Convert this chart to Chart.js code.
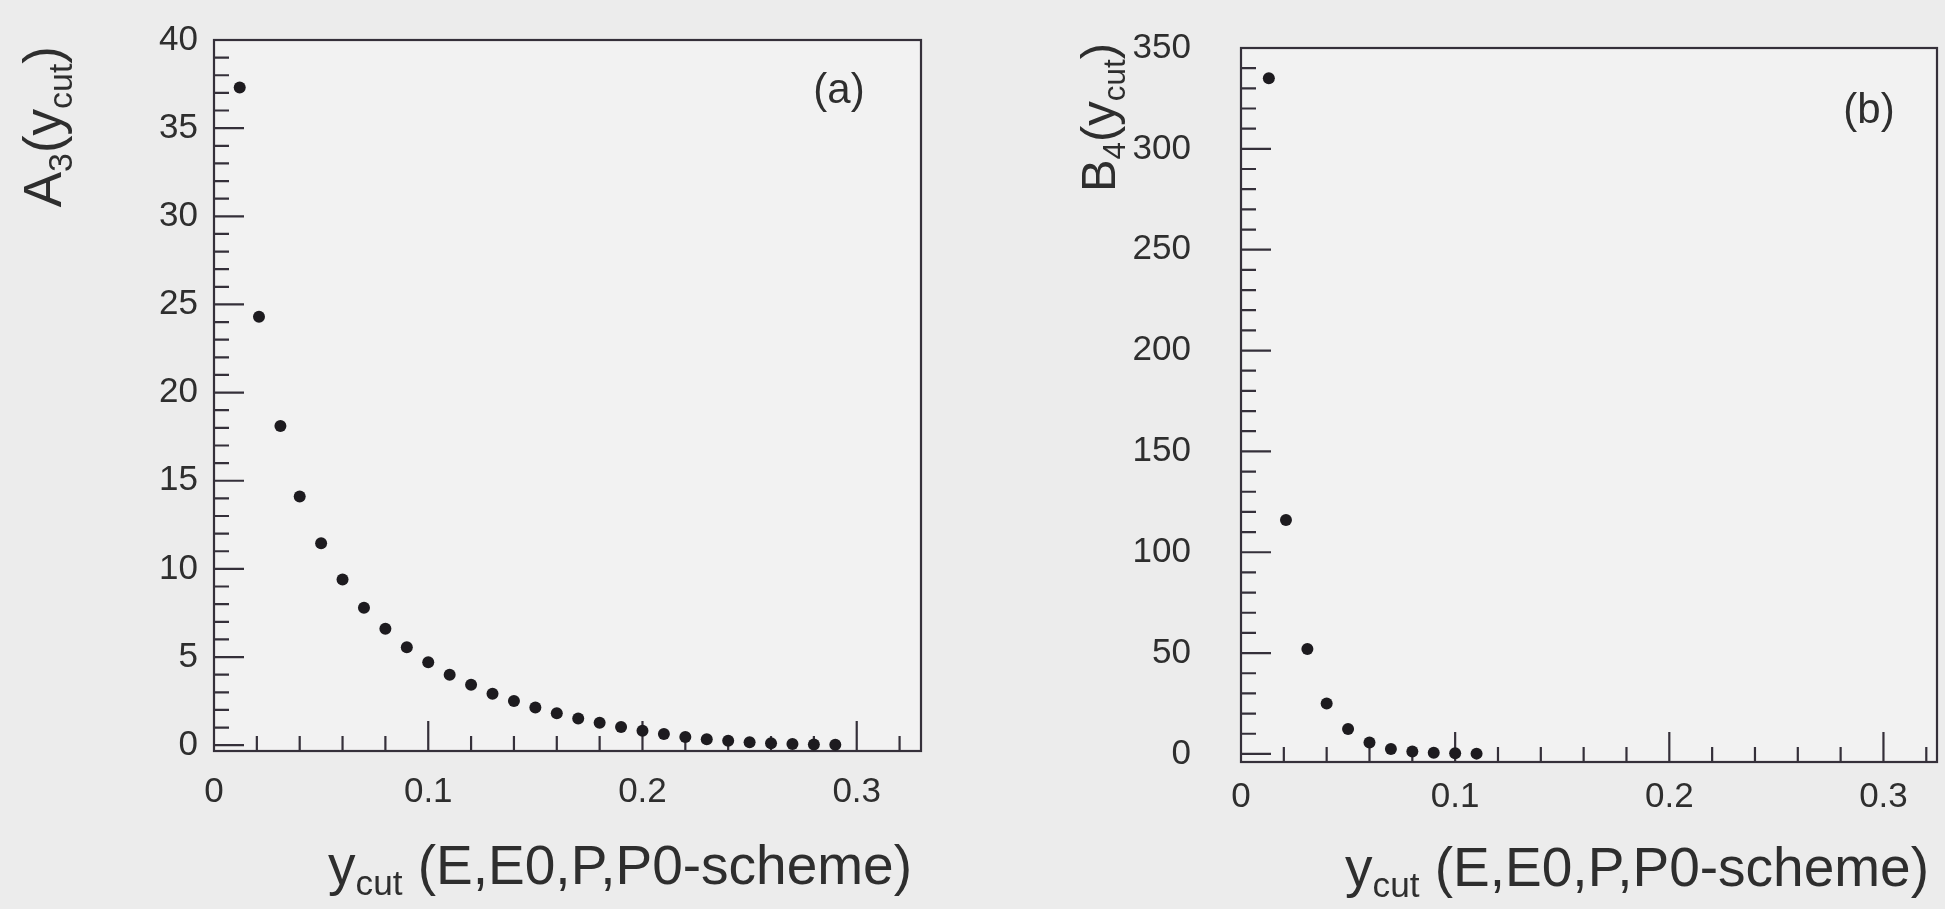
<!DOCTYPE html>
<html>
<head>
<meta charset="utf-8">
<script src="https://cdn.jsdelivr.net/npm/chart.js@4.4.1/dist/chart.umd.min.js"></script>
<style>
  html, body { margin: 0; padding: 0; background: #ececec; }
  body { width: 1945px; height: 909px; position: relative; overflow: hidden; }
  .panel { position: absolute; top: 0; height: 909px; }
  #panelA { left: 0; width: 972px; }
  #panelB { left: 972px; width: 973px; }
</style>
</head>
<body>
<div class="panel" id="panelA"><canvas id="chartA" width="972" height="909"></canvas></div>
<div class="panel" id="panelB"><canvas id="chartB" width="973" height="909"></canvas></div>
<script>
// panel (a): A3(ycut)
const ycutA = [0.012, 0.021, 0.031, 0.040, 0.050, 0.060, 0.070, 0.080, 0.090, 0.100,
               0.110, 0.120, 0.130, 0.140, 0.150, 0.160, 0.170, 0.180, 0.190, 0.200,
               0.210, 0.220, 0.230, 0.240, 0.250, 0.260, 0.270, 0.280, 0.290];
const a3 = [37.3, 24.3, 18.1, 14.1, 11.45, 9.4, 7.8, 6.6, 5.55, 4.7,
            4.0, 3.43, 2.92, 2.51, 2.14, 1.81, 1.51, 1.27, 1.03, 0.82,
            0.63, 0.47, 0.34, 0.25, 0.17, 0.11, 0.07, 0.04, 0.02];

// panel (b): B4(ycut)
const ycutB = [0.013, 0.021, 0.031, 0.040, 0.050, 0.060, 0.070, 0.080, 0.090, 0.100, 0.110];
const b4 = [335, 116, 52, 25, 12.4, 5.7, 2.5, 1.2, 0.6, 0.3, 0.15];

const xTicks = [0, 0.1, 0.2, 0.3];
const xTickLabels = ["0", "0.1", "0.2", "0.3"];
const yTicksA = [0, 5, 10, 15, 20, 25, 30, 35, 40];
const yTicksB = [0, 50, 100, 150, 200, 250, 300, 350];

const FONT = '"Liberation Sans", Arial, Helvetica, sans-serif';
const INK = "#35303a";
const SUB = 0.64;

function partsWidth(ctx, parts, size) {
  let w = 0;
  for (const p of parts) {
    ctx.font = (p.sub ? size * SUB : size) + "px " + FONT;
    w += ctx.measureText(p.t).width;
  }
  return w;
}

function drawParts(ctx, parts, size, x, y) {
  let cx = x;
  for (const p of parts) {
    const s = p.sub ? size * SUB : size;
    ctx.font = s + "px " + FONT;
    ctx.fillText(p.t, cx, p.sub ? y + size * 0.2 : y);
    cx += ctx.measureText(p.t).width;
  }
}

// frame, inward ticks, titles and panel label, PAW style
const pawPlugin = {
  id: "paw",
  beforeDraw(chart) {
    const { ctx, chartArea: a } = chart;
    ctx.save();
    ctx.fillStyle = "#f2f2f2";
    ctx.fillRect(a.left, a.top, a.right - a.left, a.bottom - a.top);
    ctx.restore();
  },
  beforeDatasetsDraw(chart, args, o) {
    const { ctx, chartArea: a, scales } = chart;
    const xs = scales.x, ys = scales.y;
    ctx.save();
    ctx.strokeStyle = INK;
    ctx.lineWidth = 2.2;
    ctx.strokeRect(a.left, a.top, a.right - a.left, a.bottom - a.top);
    ctx.beginPath();
    for (let i = 1; i * o.xMinor <= xs.max + 1e-9; i++) {
      const v = +(i * o.xMinor).toFixed(4);
      const px = xs.getPixelForValue(v);
      const len = xTicks.includes(v) ? 30 : 15;
      ctx.moveTo(px, a.bottom);
      ctx.lineTo(px, a.bottom - len);
    }
    for (let i = 0; i * o.yMinor <= ys.max + 1e-9; i++) {
      const py = ys.getPixelForValue(i * o.yMinor);
      const len = (i % 5 === 0) ? 30 : 15;
      ctx.moveTo(a.left, py);
      ctx.lineTo(a.left + len, py);
    }
    ctx.stroke();
    ctx.restore();
  },
  afterDraw(chart, args, o) {
    const { ctx, chartArea: a } = chart;
    ctx.save();
    ctx.fillStyle = "#2e2e2e";
    ctx.textAlign = "left";
    ctx.textBaseline = "alphabetic";
    // x title, right-aligned at the end of the axis
    const xw = partsWidth(ctx, o.xTitle, o.xSize);
    drawParts(ctx, o.xTitle, o.xSize, a.right - o.xRightGap - xw, o.xBaseline);
    // y title, rotated, ending near the top of the axis
    const yw = partsWidth(ctx, o.yTitle, o.ySize);
    ctx.save();
    ctx.translate(o.yBaseline, o.yEnd);
    ctx.rotate(-Math.PI / 2);
    drawParts(ctx, o.yTitle, o.ySize, -yw, 0);
    ctx.restore();
    // panel label
    ctx.font = o.labelSize + "px " + FONT;
    ctx.textAlign = "center";
    ctx.textBaseline = "middle";
    ctx.fillText(o.label, o.labelX, o.labelY);
    ctx.restore();
  }
};

const xTitleParts = [{ t: "y" }, { t: "cut", sub: true }, { t: " (E,E0,P,P0-scheme)" }];

function makeChart(id, xs, ys, cfg) {
  return new Chart(document.getElementById(id), {
    type: "scatter",
    data: {
      datasets: [{
        data: xs.map((x, i) => ({ x: x, y: ys[i] })),
        pointRadius: 6,
        pointBackgroundColor: "#1d1b1f",
        pointBorderWidth: 0,
        clip: false
      }]
    },
    options: {
      responsive: false,
      devicePixelRatio: 1,
      animation: false,
      events: [],
      layout: { padding: cfg.padding, autoPadding: false },
      plugins: {
        legend: { display: false },
        tooltip: { enabled: false },
        paw: cfg.paw
      },
      scales: {
        x: {
          type: "linear",
          min: 0,
          max: cfg.xMax,
          grid: { display: false, drawTicks: false },
          border: { display: false },
          afterBuildTicks: s => { s.ticks = xTicks.map(v => ({ value: v })); },
          afterFit: s => { s.height = 100; },
          ticks: {
            font: { family: FONT, size: 35 },
            color: "#2e2e2e",
            padding: cfg.xLabelGap,
            maxRotation: 0,
            autoSkip: false,
            callback: (v, i) => xTickLabels[i]
          }
        },
        y: {
          type: "linear",
          min: cfg.yMin,
          max: cfg.yMax,
          grid: { display: false, drawTicks: false },
          border: { display: false },
          afterBuildTicks: s => { s.ticks = cfg.yTicks.map(v => ({ value: v })); },
          // fixed axis width; label padding must not push the plot area down
          afterFit: s => { s.width = cfg.yWidth; s.paddingTop = 0; s.paddingBottom = 0; },
          ticks: {
            font: { family: FONT, size: 35 },
            color: "#2e2e2e",
            padding: cfg.yLabelGap,
            autoSkip: false,
            callback: (v, i) => String(cfg.yTicks[i])
          }
        }
      }
    },
    plugins: [pawPlugin]
  });
}

makeChart("chartA", ycutA, a3, {
  padding: { left: 0, top: 40, right: 51, bottom: 909 - 751 - 100 },
  xMax: 0.33, yMin: -0.33, yMax: 40, yTicks: yTicksA, yWidth: 214,
  yLabelGap: 16, xLabelGap: 20,
  paw: {
    xMinor: 0.02, yMinor: 1,
    xTitle: xTitleParts, xSize: 55, xBaseline: 884, xRightGap: 9,
    yTitle: [{ t: "A" }, { t: "3", sub: true }, { t: "(y" }, { t: "cut", sub: true }, { t: ")" }],
    ySize: 53, yBaseline: 61, yEnd: 46,
    label: "(a)", labelSize: 42, labelX: 839, labelY: 91
  }
});

makeChart("chartB", ycutB, b4, {
  padding: { left: 0, top: 48, right: 973 - 965, bottom: 909 - 762 - 100 },
  xMax: 0.325, yMin: -4, yMax: 350, yTicks: yTicksB, yWidth: 269,
  yLabelGap: 50, xLabelGap: 14,
  paw: {
    xMinor: 0.02, yMinor: 10,
    xTitle: xTitleParts, xSize: 55, xBaseline: 886, xRightGap: 8,
    yTitle: [{ t: "B" }, { t: "4", sub: true }, { t: "(y" }, { t: "cut", sub: true }, { t: ")" }],
    ySize: 49, yBaseline: 143, yEnd: 43,
    label: "(b)", labelSize: 42, labelX: 897, labelY: 111
  }
});
</script>
</body>
</html>
